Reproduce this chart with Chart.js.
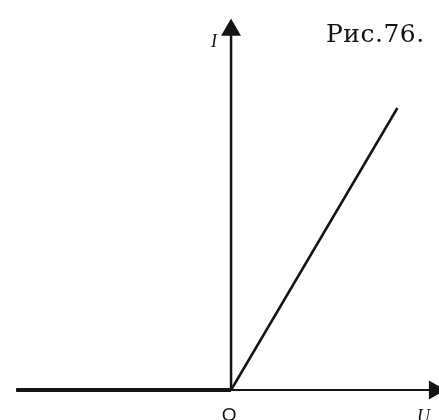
<!DOCTYPE html>
<html>
<head>
<meta charset="utf-8">
<script src="https://cdn.jsdelivr.net/npm/chart.js@4/dist/chart.umd.min.js"></script>
<style>
  body { margin: 0; background: #fff; }
  canvas { display: block; }
</style>
</head>
<body>
<canvas id="ivChart" width="439" height="420"></canvas>
<script>
// I(U) characteristic: zero current for U < 0, linear rise for U > 0
const voltage = [-0.93, 0, 0.72];
const current = [0, 0, 0.94];

// axes drawn as data
const uAxis = [-0.93, 0.88];
const iAxis = [0, 1.2];

const figureLabel = 'Рис.76.';
const axisNames = { u: 'U', i: 'I', origin: 'O' };

const ink = 'rgb(20, 20, 20)';

const textPlugin = {
  id: 'figureText',
  afterDraw(chart) {
    const { ctx, scales } = chart;
    const x = scales.x;
    ctx.save();
    ctx.fillStyle = ink;
    ctx.textBaseline = 'alphabetic';
    ctx.font = '25px "DejaVu Serif", "Liberation Serif", serif';
    ctx.letterSpacing = '0.5px';
    ctx.fillText(figureLabel, 326, 42);
    ctx.letterSpacing = '0px';
    ctx.font = 'italic 18px "Liberation Serif", serif';
    ctx.fillText(axisNames.i, x.getPixelForValue(0) - 20, 47);
    ctx.fillText(axisNames.u, 417, 422);
    ctx.font = '19px "Liberation Sans", sans-serif';
    ctx.textAlign = 'center';
    ctx.fillText(axisNames.origin, x.getPixelForValue(0) - 2, 421);
    ctx.restore();
  }
};

const data = {
  datasets: [
    {
      label: 'U axis',
      data: uAxis.map(v => ({ x: v, y: 0 })),
      borderColor: ink,
      backgroundColor: ink,
      borderWidth: 2,
      pointStyle: 'triangle',
      pointRadius: [0, 9],
      pointRotation: [0, 90],
      showLine: true
    },
    {
      label: 'I axis',
      data: iAxis.map(v => ({ x: 0, y: v })),
      borderColor: ink,
      backgroundColor: ink,
      borderWidth: 2.5,
      pointStyle: 'triangle',
      pointRadius: [0, 9],
      pointRotation: [0, 0],
      showLine: true
    },
    {
      label: 'I(U) negative',
      data: voltage.slice(0, 2).map((v, k) => ({ x: v, y: current[k] })),
      borderColor: ink,
      borderWidth: 4,
      pointRadius: 0,
      showLine: true
    },
    {
      label: 'I(U) positive',
      data: voltage.slice(1).map((v, k) => ({ x: v, y: current[k + 1] })),
      borderColor: ink,
      borderWidth: 2.5,
      pointRadius: 0,
      showLine: true
    }
  ]
};

const config = {
  type: 'scatter',
  data: data,
  options: {
    responsive: false,
    animation: false,
    devicePixelRatio: 1,
    layout: { padding: 0, autoPadding: false },
    plugins: {
      legend: { display: false },
      tooltip: { enabled: false }
    },
    scales: {
      x: { type: 'linear', min: -1.0, max: 0.9, display: false },
      y: { type: 'linear', min: -0.1, max: 1.3, display: false }
    }
  },
  plugins: [textPlugin]
};

const ivChart = new Chart(document.getElementById('ivChart'), config);
</script>
</body>
</html>
